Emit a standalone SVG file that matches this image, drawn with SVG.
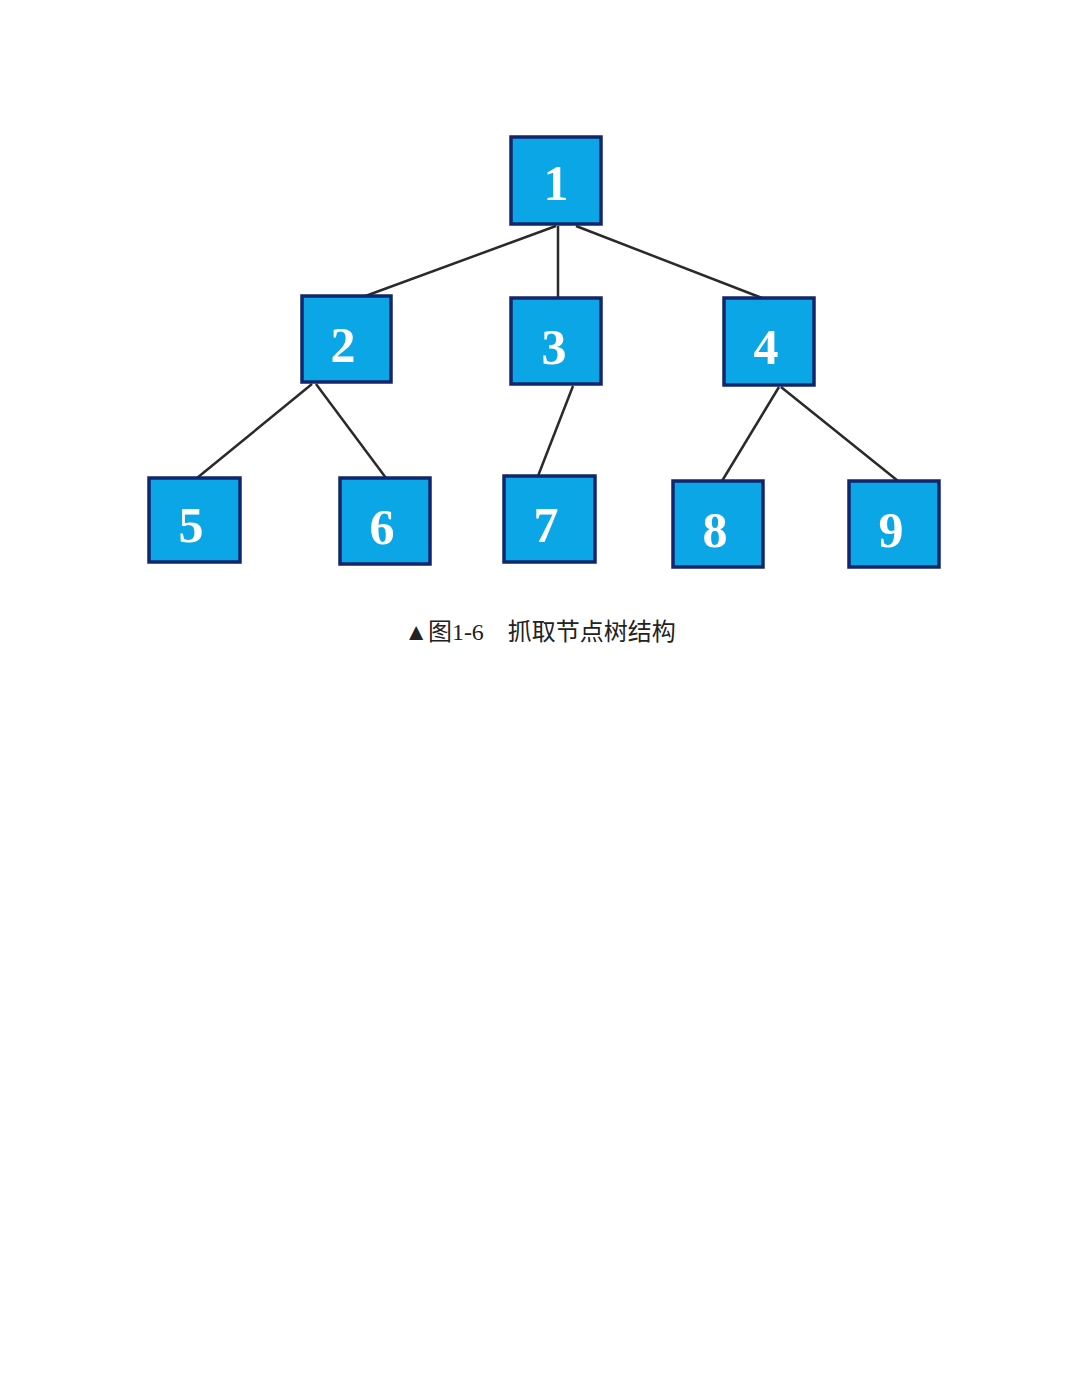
<svg xmlns="http://www.w3.org/2000/svg" width="1080" height="1397" viewBox="0 0 1080 1397">
<style>
.n rect{fill:#0aa6e6;stroke:#14266b;stroke-width:3.5}
.n text{fill:#fff;font-family:"Liberation Serif",serif;font-size:50px;font-weight:bold;text-anchor:middle}
#edges line{stroke:#2a2a2a;stroke-width:2.5}
</style>
<rect width="1080" height="1397" fill="#fff"/>
<g id="edges">
<line x1="556" y1="226" x2="360" y2="298"/>
<line x1="558" y1="226" x2="558" y2="298"/>
<line x1="576" y1="226" x2="762" y2="298"/>
<line x1="312" y1="384" x2="197" y2="478"/>
<line x1="316" y1="384" x2="386" y2="478"/>
<line x1="573" y1="386" x2="538" y2="476"/>
<line x1="779" y1="387" x2="722" y2="481"/>
<line x1="781" y1="387" x2="898" y2="481"/>
</g>
<g id="n1" class="n"><rect x="511" y="137" width="90" height="87"/><text x="556" y="200">1</text></g>
<g id="n2" class="n"><rect x="302" y="296" width="89" height="86"/><text x="343" y="362">2</text></g>
<g id="n3" class="n"><rect x="511" y="298" width="90" height="86"/><text x="554" y="364">3</text></g>
<g id="n4" class="n"><rect x="724" y="298" width="90" height="87"/><text x="766" y="364">4</text></g>
<g id="n5" class="n"><rect x="149" y="478" width="91" height="84"/><text x="191" y="542">5</text></g>
<g id="n6" class="n"><rect x="340" y="478" width="90" height="86"/><text x="382" y="544">6</text></g>
<g id="n7" class="n"><rect x="504" y="476" width="91" height="86"/><text x="546" y="542">7</text></g>
<g id="n8" class="n"><rect x="673" y="481" width="90" height="86"/><text x="715" y="547">8</text></g>
<g id="n9" class="n"><rect x="849" y="481" width="90" height="86"/><text x="891" y="547">9</text></g>
<text x="540" y="640" text-anchor="middle" font-family="Liberation Serif,'Noto Sans CJK SC',serif" font-size="24" fill="#222">▲图1-6　抓取节点树结构</text>
</svg>
